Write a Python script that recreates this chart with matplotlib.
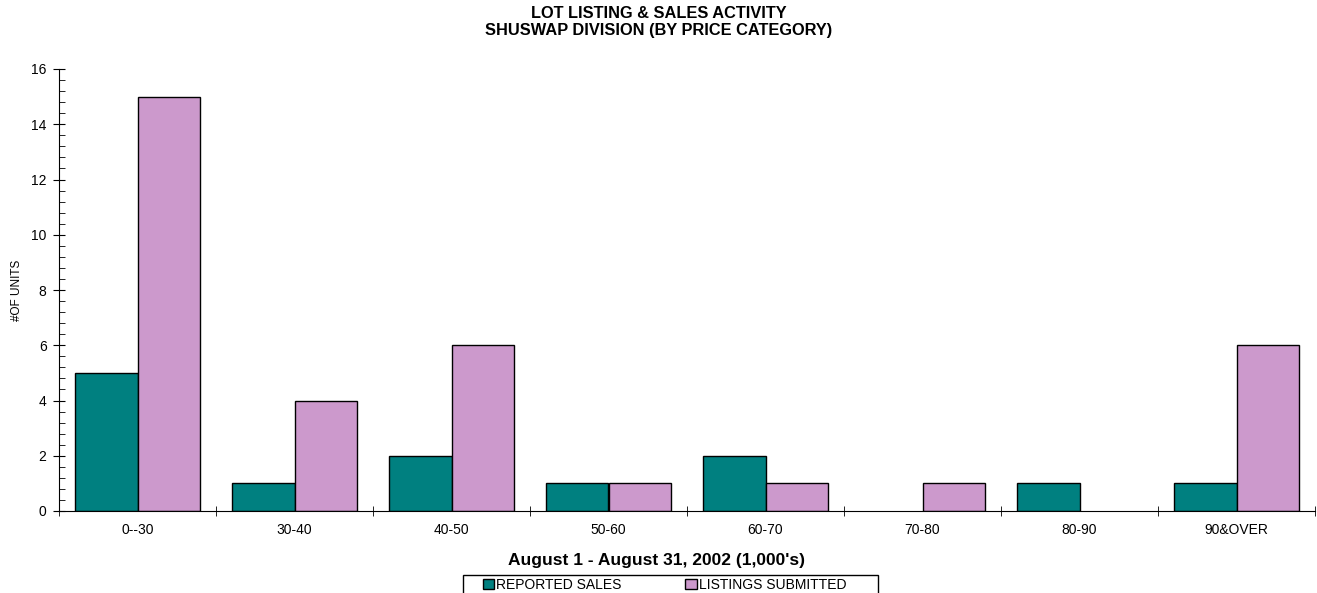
import numpy as np
import matplotlib
matplotlib.use("Agg")
import matplotlib.pyplot as plt
from matplotlib.ticker import MultipleLocator
from matplotlib.patches import Patch, Rectangle

plt.rcParams['font.family'] = ['Liberation Sans', 'DejaVu Sans']

categories = ['0--30', '30-40', '40-50', '50-60', '60-70', '70-80', '80-90', '90&OVER']
sales = [5, 1, 2, 1, 2, 0, 1, 1]
listings = [15, 4, 6, 1, 1, 1, 0, 6]

W, H = 1317, 593
fig = plt.figure(figsize=(W/100, H/100), dpi=100)
ax = fig.add_axes([59/W, 1 - 511/H, 1256/W, 442/H])

x = np.arange(len(categories))
w = 0.4
for i in range(len(categories)):
    if sales[i] > 0:
        ax.bar(x[i] - w/2, sales[i], w, color='#008080', edgecolor='black', linewidth=1)
    if listings[i] > 0:
        ax.bar(x[i] + w/2, listings[i], w, color='#CC99CC', edgecolor='black', linewidth=1)

ax.set_xlim(-0.5, len(categories) - 0.5)
ax.set_ylim(0, 16)
ax.yaxis.set_major_locator(MultipleLocator(2))
ax.yaxis.set_minor_locator(MultipleLocator(0.4))
ax.set_xticks(x)
ax.set_xticklabels(categories)
ax.set_xticks(np.arange(-0.5, len(categories)), minor=True)
ax.tick_params(axis='x', which='major', length=0, pad=9, labelsize=10)
ax.tick_params(axis='x', which='minor', length=7, direction='inout')
ax.tick_params(axis='y', which='major', length=8, direction='inout', labelsize=10, pad=5)
ax.tick_params(axis='y', which='minor', length=4, direction='in')

for s in ['top', 'right']:
    ax.spines[s].set_visible(False)

fig.text(17/W, 1 - 290/H, '#OF UNITS', rotation=90, ha='center', va='center', fontsize=8.5)
fig.text(657/W, 1 - 560/H, "August 1 - August 31, 2002 (1,000's)", ha='center', va='center',
         fontsize=12.5, fontweight='bold')

fig.text(0.5, 1 - 14/H, 'LOT LISTING & SALES ACTIVITY', ha='center', va='center',
         fontsize=11.8, fontweight='bold')
fig.text(0.5, 1 - 30/H, 'SHUSWAP DIVISION (BY PRICE CATEGORY)', ha='center', va='center',
         fontsize=11.8, fontweight='bold')

# legend box
fig.patches.append(Rectangle((463/W, -0.05), 415/W, 0.05 + 1 - 575/H, transform=fig.transFigure,
                             facecolor='none', edgecolor='black', linewidth=1))
handles = [Patch(facecolor='#008080', edgecolor='black'), Patch(facecolor='#CC99CC', edgecolor='black')]
leg = fig.legend(handles, ['REPORTED SALES', 'LISTINGS SUBMITTED'], loc='upper left',
                 bbox_to_anchor=(483/W, 1 - 578/H), ncol=2, fontsize=10, frameon=False,
                 handlelength=0.8, handleheight=0.65, handletextpad=0.15, columnspacing=4.6,
                 borderpad=0, borderaxespad=0)

fig.savefig('out.png', dpi=100)
